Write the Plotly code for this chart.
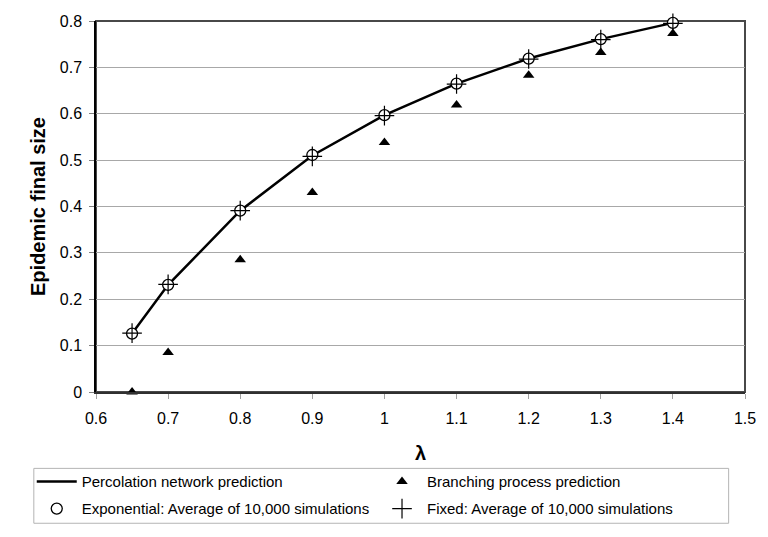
import plotly.graph_objects as go

# lambda values on the x axis
lam = [0.65, 0.7, 0.8, 0.9, 1.0, 1.1, 1.2, 1.3, 1.4]

# percolation network prediction (line)
percolation = [0.126, 0.231, 0.391, 0.510, 0.597, 0.665, 0.719, 0.761, 0.796]
# branching process prediction (triangles)
branching = [0.0, 0.085, 0.285, 0.430, 0.538, 0.619, 0.683, 0.732, 0.773]
# simulation averages
exponential_sim = [0.126, 0.231, 0.391, 0.511, 0.597, 0.665, 0.719, 0.761, 0.796]
fixed_sim = [0.127, 0.232, 0.391, 0.508, 0.596, 0.664, 0.718, 0.760, 0.795]

x_ticks = [0.6, 0.7, 0.8, 0.9, 1.0, 1.1, 1.2, 1.3, 1.4, 1.5]
x_tick_text = ["0.6", "0.7", "0.8", "0.9", "1", "1.1", "1.2", "1.3", "1.4", "1.5"]
y_ticks = [0, 0.1, 0.2, 0.3, 0.4, 0.5, 0.6, 0.7, 0.8]
y_tick_text = ["0", "0.1", "0.2", "0.3", "0.4", "0.5", "0.6", "0.7", "0.8"]

font = "Liberation Sans, Arial, sans-serif"

fig = go.Figure()

fig.add_trace(go.Scatter(
    x=lam, y=percolation, mode="lines", name="Percolation network prediction",
    line=dict(color="black", width=2.5), cliponaxis=False, legend="legend",
))
fig.add_trace(go.Scatter(
    x=lam, y=branching, mode="markers", name="Branching process prediction",
    marker=dict(symbol="triangle-up", size=10, color="black"), cliponaxis=False,
    legend="legend2",
))
fig.add_trace(go.Scatter(
    x=lam, y=exponential_sim, mode="markers", name="Exponential: Average of 10,000 simulations",
    marker=dict(symbol="circle", size=11, color="white", line=dict(color="black", width=1.3)),
    cliponaxis=False, legend="legend3",
))
fig.add_trace(go.Scatter(
    x=lam, y=fixed_sim, mode="markers", name="Fixed: Average of 10,000 simulations",
    marker=dict(symbol="cross-thin-open", size=14, color="black", line=dict(color="black", width=1.2)),
    cliponaxis=False, legend="legend4",
))

# plot area border (top and right in dark grey)
fig.add_shape(type="rect", xref="paper", yref="paper", x0=0, x1=1, y0=0, y1=1,
              line=dict(color="#484848", width=2), layer="below")
# legend frame
fig.add_shape(type="rect", xref="paper", yref="paper", x0=-0.0958, x1=0.9748,
              y0=-0.3538, y1=-0.2059, line=dict(color="#b4b4b4", width=1))


def leg(x, y):
    return dict(x=x, y=y, xanchor="left", yanchor="middle", borderwidth=0,
                bgcolor="rgba(0,0,0,0)", itemwidth=40,
                font=dict(family=font, size=15, color="black"))


fig.update_layout(
    width=768, height=537,
    margin=dict(l=96, r=21, t=21, b=144),
    paper_bgcolor="white", plot_bgcolor="white",
    font=dict(family=font, size=16, color="black"),
    showlegend=True,
    legend=leg(-0.099, -0.242),
    legend2=leg(0.433, -0.242),
    legend3=leg(-0.099, -0.315),
    legend4=leg(0.433, -0.315),
)

fig.update_xaxes(
    range=[0.6, 1.5], tickvals=x_ticks, ticktext=x_tick_text,
    showgrid=False, zeroline=False,
    showline=True, linecolor="#303030", linewidth=2,
    ticks="outside", ticklen=5, tickcolor="#a0a0a0", ticklabelstandoff=6,
    title=dict(text="<b>λ</b>", font=dict(family=font, size=20), standoff=20),
)
fig.update_yaxes(
    range=[0, 0.8], tickvals=y_ticks, ticktext=y_tick_text,
    showgrid=True, gridcolor="#a8a8a8", gridwidth=1, zeroline=False,
    showline=True, linecolor="black", linewidth=1.5,
    ticks="outside", ticklen=5, tickcolor="#808080", ticklabelstandoff=4,
    title=dict(text="<b>Epidemic final size</b>", font=dict(family=font, size=20), standoff=9),
)

fig.write_html("out.html", config={"displayModeBar": False},
               post_script="document.body.style.margin='0px';")
